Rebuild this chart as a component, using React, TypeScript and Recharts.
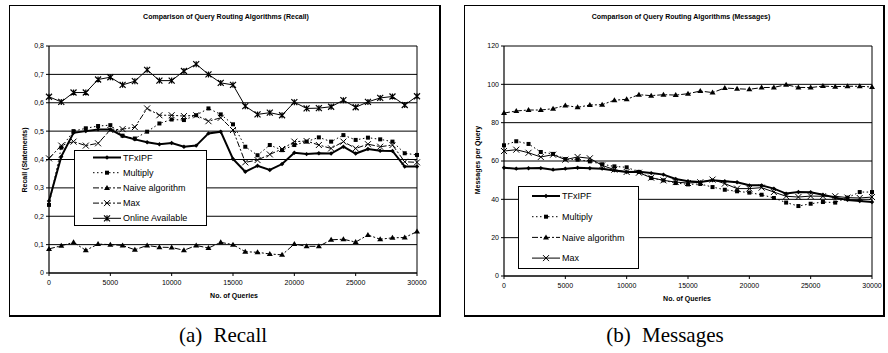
import React from 'react';
import { LineChart, Line, XAxis, YAxis, CartesianGrid, ReferenceLine } from 'recharts';

// Number of queries processed (x positions shared by both panels)
const queries = [
  0, 1000, 2000, 3000, 4000, 5000, 6000, 7000, 8000, 9000, 10000,
  11000, 12000, 13000, 14000, 15000, 16000, 17000, 18000, 19000, 20000,
  21000, 22000, 23000, 24000, 25000, 26000, 27000, 28000, 29000, 30000,
];
const xTicks = [0, 5000, 10000, 15000, 20000, 25000, 30000];

// Panel (a): recall per algorithm
const recallTfxipf = [
  0.254, 0.41, 0.494, 0.5, 0.506, 0.506, 0.483, 0.471, 0.461, 0.454, 0.458,
  0.445, 0.449, 0.492, 0.498, 0.402, 0.357, 0.378, 0.363, 0.384, 0.424,
  0.419, 0.422, 0.421, 0.445, 0.421, 0.437, 0.431, 0.43, 0.375, 0.375,
];
const recallMultiply = [
  0.24, 0.442, 0.5, 0.51, 0.518, 0.521, 0.484, 0.474, 0.498, 0.527, 0.541,
  0.539, 0.556, 0.58, 0.559, 0.524, 0.445, 0.415, 0.451, 0.433, 0.451,
  0.463, 0.478, 0.463, 0.486, 0.469, 0.477, 0.471, 0.463, 0.422, 0.416,
];
const recallNaive = [
  0.085, 0.096, 0.108, 0.08, 0.102, 0.1, 0.097, 0.082, 0.097, 0.091, 0.09,
  0.08, 0.097, 0.088, 0.108, 0.1, 0.075, 0.073, 0.067, 0.064, 0.102,
  0.094, 0.094, 0.117, 0.119, 0.109, 0.134, 0.119, 0.124, 0.125, 0.146,
];
const recallMax = [
  0.404, 0.449, 0.463, 0.449, 0.457, 0.504, 0.507, 0.514, 0.58, 0.556, 0.556,
  0.553, 0.556, 0.535, 0.547, 0.504, 0.39, 0.398, 0.418, 0.437, 0.463,
  0.465, 0.451, 0.439, 0.463, 0.439, 0.454, 0.445, 0.451, 0.392, 0.39,
];
const recallOnline = [
  0.621, 0.603, 0.636, 0.636, 0.682, 0.69, 0.663, 0.676, 0.716, 0.678, 0.678,
  0.712, 0.736, 0.7, 0.67, 0.663, 0.588, 0.559, 0.565, 0.556, 0.602,
  0.58, 0.581, 0.586, 0.609, 0.584, 0.603, 0.617, 0.622, 0.592, 0.623,
];
const recallTicks = [0, 0.1, 0.2, 0.3, 0.4, 0.5, 0.6, 0.7, 0.8];
const recallTickLabels = ['0', '0,1', '0,2', '0,3', '0,4', '0,5', '0,6', '0,7', '0,8'];

// Panel (b): messages per query per algorithm
const msgTfxipf = [
  56.5, 56.0, 56.2, 56.3, 55.5, 56.0, 56.5, 56.2, 56.0, 55.1, 54.3,
  54.4, 53.7, 52.9, 50.6, 49.4, 49.0, 49.9, 49.4, 48.9, 47.3,
  47.3, 45.6, 43.0, 43.8, 43.7, 42.4, 40.9, 39.7, 39.1, 38.6,
];
const msgMultiply = [
  68.2, 70.3, 68.9, 64.7, 63.7, 61.0, 60.7, 59.8, 58.3, 57.2, 56.7,
  54.3, 51.1, 49.9, 48.5, 47.8, 48.0, 46.4, 45.0, 44.2, 43.5,
  42.4, 40.7, 38.3, 36.5, 37.7, 38.6, 38.3, 40.9, 43.8, 43.8,
];
const msgNaive = [
  85.0, 86.1, 86.6, 86.6, 87.3, 89.0, 88.0, 89.2, 89.4, 91.7, 92.2,
  94.6, 94.1, 94.6, 94.4, 95.1, 96.5, 95.7, 98.1, 97.7, 97.4,
  98.3, 98.4, 99.8, 98.4, 98.3, 99.1, 98.8, 99.0, 99.0, 98.6,
];
const msgMax = [
  65.2, 65.9, 64.3, 62.1, 63.3, 60.7, 62.1, 61.4, 57.7, 55.5, 54.3,
  53.9, 51.3, 49.9, 49.0, 48.5, 48.9, 50.3, 48.2, 45.6, 45.6,
  46.1, 43.8, 41.6, 41.2, 41.7, 41.6, 41.6, 40.9, 40.7, 41.2,
];
const msgTicks = [0, 20, 40, 60, 80, 100, 120];
const msgTickLabels = ['0', '20', '40', '60', '80', '100', '120'];

const SANS = '"Liberation Sans", Arial, sans-serif';
const SERIF = '"Liberation Serif", "Times New Roman", serif';

type MarkerKind = 'diamond' | 'square' | 'triangle' | 'cross' | 'star';

type SeriesDef = {
  key: string;
  name: string;
  values: number[];
  marker: MarkerKind;
  width: number;
  dash?: string;
};

function Marker({ kind, cx, cy }: { kind: MarkerKind; cx: number; cy: number }) {
  if (cx == null || cy == null || Number.isNaN(cx) || Number.isNaN(cy)) return <g />;
  switch (kind) {
    case 'diamond':
      return <path d={`M${cx},${cy - 2.2}L${cx + 2.2},${cy}L${cx},${cy + 2.2}L${cx - 2.2},${cy}Z`} fill="#000" />;
    case 'square':
      return <rect x={cx - 2} y={cy - 2} width={4} height={4} fill="#000" />;
    case 'triangle':
      return <path d={`M${cx},${cy - 3}L${cx + 3},${cy + 2}L${cx - 3},${cy + 2}Z`} fill="#000" />;
    case 'cross':
      return (
        <path
          d={`M${cx - 3},${cy - 3}L${cx + 3},${cy + 3}M${cx - 3},${cy + 3}L${cx + 3},${cy - 3}`}
          stroke="#000"
          strokeWidth={1}
          fill="none"
        />
      );
    case 'star':
      return (
        <path
          d={`M${cx - 3},${cy - 3}L${cx + 3},${cy + 3}M${cx - 3},${cy + 3}L${cx + 3},${cy - 3}M${cx},${cy - 3}L${cx},${cy + 3}`}
          stroke="#000"
          strokeWidth={1.2}
          fill="none"
        />
      );
  }
  return <g />;
}

function buildRows(series: SeriesDef[]) {
  return queries.map((q, i) => {
    const row: Record<string, number> = { q };
    series.forEach((s) => {
      row[s.key] = s.values[i];
    });
    return row;
  });
}

type LegendLayout = {
  left: number;
  top: number;
  width: number;
  height: number;
  firstY: number;
  step: number;
  lineX0: number;
  lineX1: number;
  textX: number;
};

function LegendBox({ series, layout }: { series: SeriesDef[]; layout: LegendLayout }) {
  const { left, top, width, height, firstY, step, lineX0, lineX1, textX } = layout;
  return (
    <svg
      width={width}
      height={height}
      style={{ position: 'absolute', left, top, overflow: 'visible' }}
    >
      <rect x={0.5} y={0.5} width={width - 1} height={height - 1} fill="#fff" stroke="#000" strokeWidth={1} />
      {series.map((s, i) => {
        const y = firstY + i * step;
        const mid = (lineX0 + lineX1) / 2;
        return (
          <g key={s.key}>
            <line x1={lineX0} y1={y} x2={lineX1} y2={y} stroke="#000" strokeWidth={s.width} strokeDasharray={s.dash} />
            <Marker kind={s.marker} cx={mid} cy={y} />
            <text x={textX} y={y} dy="0.35em" fontFamily={SANS} fontSize={9} fill="#000">
              {s.name}
            </text>
          </g>
        );
      })}
    </svg>
  );
}

function CenteredText({
  cx,
  cy,
  text,
  size,
  bold,
  family,
  rotate,
  wordSpacing,
}: {
  cx: number;
  cy: number;
  text: string;
  size: number;
  bold?: boolean;
  family: string;
  rotate?: boolean;
  wordSpacing?: number;
}) {
  return (
    <div
      style={{
        position: 'absolute',
        left: cx - 200,
        top: cy - size,
        width: 400,
        height: size * 2,
        lineHeight: `${size * 2}px`,
        textAlign: 'center',
        fontFamily: family,
        fontSize: size,
        fontWeight: bold ? 'bold' : 'normal',
        whiteSpace: 'nowrap',
        color: '#000',
        wordSpacing: wordSpacing ?? 0,
        transform: rotate ? 'rotate(-90deg)' : undefined,
      }}
    >
      {text}
    </div>
  );
}

type PanelProps = {
  frame: { left: number; top: number; width: number; height: number };
  margin: { top: number; right: number; bottom: number; left: number };
  yAxisWidth: number;
  xAxisHeight: number;
  series: SeriesDef[];
  yTicks: number[];
  yTickLabels: string[];
  legend: LegendLayout;
  title: { cx: number; cy: number; text: string };
  yLabel: { cx: number; cy: number; text: string };
  xLabel: { cx: number; cy: number; text: string };
  caption: { cx: number; cy: number; text: string };
};

function Panel(p: PanelProps) {
  const rows = buildRows(p.series);
  const yMax = p.yTicks[p.yTicks.length - 1];
  return (
    <>
      <div
        style={{
          position: 'absolute',
          left: p.frame.left,
          top: p.frame.top,
          width: p.frame.width,
          height: p.frame.height,
          boxSizing: 'border-box',
          borderTop: '1px solid #000',
          borderLeft: '1px solid #000',
          borderRight: '2px solid #000',
          borderBottom: '2px solid #000',
          background: '#fff',
        }}
      />
      <div style={{ position: 'absolute', left: p.frame.left, top: p.frame.top }}>
        <LineChart width={p.frame.width} height={p.frame.height} data={rows} margin={p.margin}>
          <CartesianGrid horizontal vertical={false} stroke="#000" strokeWidth={1} />
          <XAxis
            dataKey="q"
            type="number"
            domain={[0, 30000]}
            ticks={xTicks}
            interval={0}
            height={p.xAxisHeight}
            tickSize={3}
            tickMargin={4}
            axisLine={{ stroke: '#000', strokeWidth: 1.2 }}
            tickLine={{ stroke: '#000' }}
            tick={{ fontFamily: SANS, fontSize: 7, fill: '#000' }}
          />
          <YAxis
            type="number"
            domain={[0, yMax]}
            ticks={p.yTicks}
            interval={0}
            width={p.yAxisWidth}
            tickSize={3}
            tickMargin={2}
            axisLine={{ stroke: '#000', strokeWidth: 1.2 }}
            tickLine={{ stroke: '#000' }}
            tick={{ fontFamily: SANS, fontSize: 7, fill: '#000' }}
            tickFormatter={(v: number) => {
              const i = p.yTicks.findIndex((t) => Math.abs(t - v) < 1e-9);
              return i >= 0 ? p.yTickLabels[i] : String(v);
            }}
          />
          <ReferenceLine x={30000} stroke="#000" strokeWidth={1} />
          {p.series.map((s) => (
            <Line
              key={s.key}
              dataKey={s.key}
              name={s.name}
              type="linear"
              stroke="#000"
              strokeWidth={s.width}
              strokeDasharray={s.dash}
              isAnimationActive={false}
              dot={(d: any) => <Marker key={`${s.key}-${d.index}`} kind={s.marker} cx={d.cx} cy={d.cy} />}
              activeDot={false}
            />
          ))}
        </LineChart>
      </div>
      <LegendBox series={p.series} layout={p.legend} />
      <CenteredText cx={p.title.cx} cy={p.title.cy} text={p.title.text} size={7} bold family={SANS} />
      <CenteredText cx={p.yLabel.cx} cy={p.yLabel.cy} text={p.yLabel.text} size={7} bold family={SANS} rotate />
      <CenteredText cx={p.xLabel.cx} cy={p.xLabel.cy} text={p.xLabel.text} size={7} bold family={SANS} />
      <CenteredText cx={p.caption.cx} cy={p.caption.cy} text={p.caption.text} size={21} family={SERIF} wordSpacing={6} />
    </>
  );
}

const recallSeries: SeriesDef[] = [
  { key: 'tfxipf', name: 'TFxIPF', values: recallTfxipf, marker: 'diamond', width: 2 },
  { key: 'multiply', name: 'Multiply', values: recallMultiply, marker: 'square', width: 1, dash: '1.5 2.5' },
  { key: 'naive', name: 'Naive algorithm', values: recallNaive, marker: 'triangle', width: 1, dash: '6 2 2 2' },
  { key: 'max', name: 'Max', values: recallMax, marker: 'cross', width: 1, dash: '6 2 2 2' },
  { key: 'online', name: 'Online Available', values: recallOnline, marker: 'star', width: 1 },
];

const messageSeries: SeriesDef[] = [
  { key: 'tfxipf', name: 'TFxIPF', values: msgTfxipf, marker: 'diamond', width: 2 },
  { key: 'multiply', name: 'Multiply', values: msgMultiply, marker: 'square', width: 1, dash: '1.5 2.5' },
  { key: 'naive', name: 'Naive algorithm', values: msgNaive, marker: 'triangle', width: 1, dash: '6 2 2 2' },
  { key: 'max', name: 'Max', values: msgMax, marker: 'cross', width: 1 },
];

export default function App() {
  return (
    <div
      style={{
        position: 'absolute',
        left: 0,
        top: 0,
        width: 888,
        height: 353,
        background: '#fff',
        overflow: 'hidden',
      }}
    >
      <Panel
        frame={{ left: 9, top: 5, width: 432, height: 312 }}
        margin={{ top: 41, right: 24, bottom: 24, left: 10 }}
        yAxisWidth={30}
        xAxisHeight={20}
        series={recallSeries}
        yTicks={recallTicks}
        yTickLabels={recallTickLabels}
        legend={{ left: 74, top: 150, width: 133, height: 76, firstY: 7.5, step: 15.2, lineX0: 19, lineX1: 47, textX: 49 }}
        title={{ cx: 226, cy: 17, text: 'Comparison of Query Routing Algorithms (Recall)' }}
        yLabel={{ cx: 25, cy: 160, text: 'Recall (Statements)' }}
        xLabel={{ cx: 234, cy: 296, text: 'No. of Queries' }}
        caption={{ cx: 223, cy: 335, text: '(a) Recall' }}
      />
      <Panel
        frame={{ left: 464, top: 5, width: 421, height: 312 }}
        margin={{ top: 41, right: 13, bottom: 21, left: 10 }}
        yAxisWidth={30}
        xAxisHeight={20}
        series={messageSeries}
        yTicks={msgTicks}
        yTickLabels={msgTickLabels}
        legend={{ left: 518, top: 186, width: 121, height: 83, firstY: 10, step: 20.7, lineX0: 14, lineX1: 42, textX: 44 }}
        title={{ cx: 681, cy: 17, text: 'Comparison of Query Routing Algorithms (Messages)' }}
        yLabel={{ cx: 478, cy: 160, text: 'Messages per Query' }}
        xLabel={{ cx: 687, cy: 299, text: 'No. of Queries' }}
        caption={{ cx: 665, cy: 335, text: '(b) Messages' }}
      />
    </div>
  );
}
